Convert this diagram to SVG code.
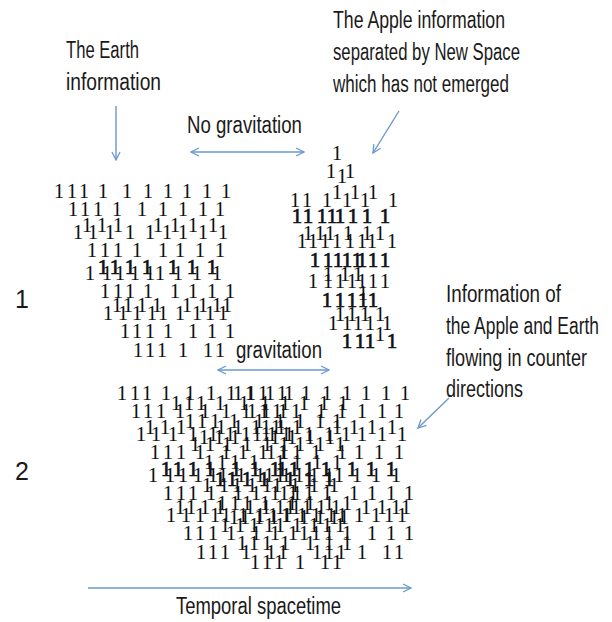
<svg xmlns="http://www.w3.org/2000/svg" xmlns:xlink="http://www.w3.org/1999/xlink" width="612" height="622" viewBox="0 0 612 622">
<style>
.lbl{font-family:'Liberation Sans Narrow','Liberation Sans',sans-serif;font-size:23px;fill:#1a1a1a}
.num{font-family:'Liberation Sans Narrow','Liberation Sans',sans-serif;font-size:25px;fill:#1a1a1a}
.one{font-family:'Liberation Serif',serif;font-size:21px;fill:#111;text-anchor:middle}
.b{stroke:#111;stroke-width:0.7}
.arr{fill:none;stroke:#6a98cf;stroke-width:1.4}
</style>
<defs>
<marker id="ah" viewBox="0 0 10 10" refX="9" refY="5" markerWidth="10" markerHeight="10" markerUnits="userSpaceOnUse" orient="auto-start-reverse">
<path d="M1,1 L9,5 L1,9" fill="none" stroke="#6a98cf" stroke-width="1.3"/>
</marker>
<g id="earthPat">
<text class="one" x="59 72 84 103 127 148 168 187 207 226" y="198">1111111111</text>
<text class="one" x="73 85 98 117 142 163 183 203 220" y="216">111111111</text>
<text class="one" x="78 93 110 130 150 167 183 203 223" y="239">111111111</text>
<text class="one" x="87 102 118 158 175 193 213" y="232">1111111</text>
<text class="one" x="92 105 118 137 163 180 200 220" y="257">11111111</text>
<text class="one" x="90 107 120 135 150 160 178 197 217" y="280">111111111</text>
<text class="one b" x="103 115 130 147 173 192 212" y="274">1111111</text>
<text class="one" x="105 118 130 148 175 193 212 230" y="298">11111111</text>
<text class="one" x="108 123 137 152 163 180 197 210 223" y="320">111111111</text>
<text class="one" x="117 128 142 157 187 203 217 227" y="312">11111111</text>
<text class="one" x="125 137 150 168 193 212 230" y="338">1111111</text>
<text class="one" x="138 150 162 183 208 220" y="357">111111</text>
</g>
</defs>
<g id="connectors">
<line class="arr" x1="116" y1="106" x2="116" y2="160" marker-end="url(#ah)"/>
<line class="arr" x1="399" y1="111" x2="373" y2="153" marker-end="url(#ah)"/>
<line class="arr" x1="191" y1="152" x2="304" y2="152" marker-start="url(#ah)" marker-end="url(#ah)"/>
<line class="arr" x1="218" y1="370" x2="329" y2="370" marker-start="url(#ah)" marker-end="url(#ah)"/>
<line class="arr" x1="449" y1="398" x2="418" y2="428" marker-end="url(#ah)"/>
<line class="arr" x1="88" y1="588" x2="411" y2="588" marker-end="url(#ah)"/>
</g>
<g id="label-earth">
<text class="lbl" x="66" y="58" textLength="73" lengthAdjust="spacingAndGlyphs">The Earth</text>
<text class="lbl" x="66" y="90" textLength="95" lengthAdjust="spacingAndGlyphs">information</text>
</g>
<g id="label-apple">
<text class="lbl" x="333" y="28" textLength="172" lengthAdjust="spacingAndGlyphs">The Apple information</text>
<text class="lbl" x="333" y="60" textLength="187" lengthAdjust="spacingAndGlyphs">separated by New Space</text>
<text class="lbl" x="333" y="92" textLength="176" lengthAdjust="spacingAndGlyphs">which has not emerged</text>
</g>
<g id="label-nograv">
<text class="lbl" x="187" y="133" textLength="115" lengthAdjust="spacingAndGlyphs">No gravitation</text>
</g>
<g id="label-grav">
<text class="lbl" x="236" y="358" textLength="86" lengthAdjust="spacingAndGlyphs">gravitation</text>
</g>
<g id="label-flow">
<text class="lbl" x="446" y="302" textLength="115" lengthAdjust="spacingAndGlyphs">Information of</text>
<text class="lbl" x="446" y="334" textLength="153" lengthAdjust="spacingAndGlyphs">the Apple and Earth</text>
<text class="lbl" x="446" y="366" textLength="141" lengthAdjust="spacingAndGlyphs">flowing in counter</text>
<text class="lbl" x="446" y="397" textLength="77" lengthAdjust="spacingAndGlyphs">directions</text>
</g>
<g id="label-time">
<text class="lbl" x="176" y="614" textLength="165" lengthAdjust="spacingAndGlyphs">Temporal spacetime</text>
</g>
<g id="label-1"><text class="num" x="15" y="308">1</text></g>
<g id="label-2"><text class="num" x="15" y="480">2</text></g>
<g id="earth">
<use xlink:href="#earthPat"/>
</g>
<g id="apple">
<text class="one" x="337" y="160">1</text>
<text class="one" x="331 342 350" y="178 183 178">111</text>
<text class="one" x="295 307 327 347 365 393" y="207">111111</text>
<text class="one" x="337 355 373" y="199">111</text>
<text class="one b" x="297 308 322 332 340 353 367 385" y="223">11111111</text>
<text class="one" x="302 313 325 337 350 362 372 392" y="248">11111111</text>
<text class="one" x="308 320 330 348 367 380" y="240">111111</text>
<text class="one b" x="315 328 338 347 357 362 373 385" y="267">11111111</text>
<text class="one" x="313 328 340 352 362 373 385" y="288">1111111</text>
<text class="one" x="328 345 358" y="281">111</text>
<text class="one b" x="327 340 352 363 373" y="307">11111</text>
<text class="one" x="363" y="300">1</text>
<text class="one" x="333 347 358 370 387" y="330">11111</text>
<text class="one" x="340 352 365 380" y="321">1111</text>
<text class="one b" x="347 360 370 392" y="348">1111</text>
<text class="one" x="380" y="341">1</text>
</g>
<g id="merged">
<use xlink:href="#earthPat" transform="translate(63,202)"/>
<use xlink:href="#earthPat" transform="translate(117,212)"/>
<use xlink:href="#earthPat" transform="translate(179,202)"/>
</g>
</svg>
